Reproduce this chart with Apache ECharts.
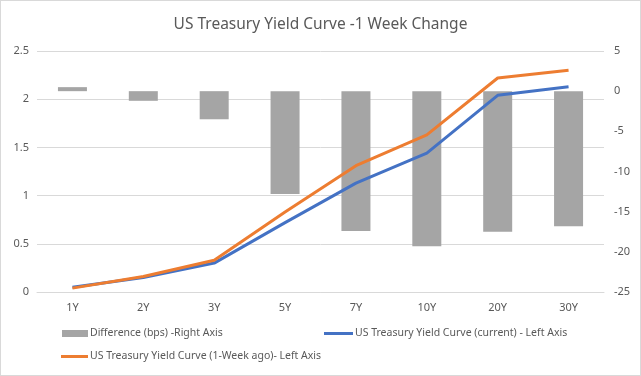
<!DOCTYPE html>
<html>
<head>
<meta charset="utf-8">
<script src="https://cdn.jsdelivr.net/npm/echarts@6/dist/echarts.min.js"></script>
<style>
html,body{margin:0;padding:0;background:#fff;}
#c{width:641px;height:376px;box-sizing:border-box;border:1px solid #d9d9d9;}
</style>
</head>
<body>
<div id="c"></div>
<script>
const categories = ['1Y','2Y','3Y','5Y','7Y','10Y','20Y','30Y'];
const differenceBps = [0.5, -1.2, -3.5, -12.8, -17.4, -19.3, -17.5, -16.8];
const yieldCurrent = [0.05, 0.15, 0.30, 0.72, 1.13, 1.44, 2.04, 2.13];
const yieldWeekAgo = [0.04, 0.16, 0.33, 0.83, 1.31, 1.63, 2.22, 2.30];
const leftTicks = [0, 2.5, 0.5];
const rightTicks = [-25, 5, 5];

const names = ['Difference (bps) -Right Axis','US Treasury Yield Curve (current) - Left Axis','US Treasury Yield Curve (1-Week ago)- Left Axis'];
const font = 'Noto Sans';
const txt = '#595959';
const legText = {color:txt,fontSize:10.5,fontFamily:font,padding:[0,0,0,-3]};

const chart = echarts.init(document.getElementById('c'));
chart.setOption({
  animation:false,
  textStyle:{fontFamily:font},
  title:{text:'US Treasury Yield Curve -1 Week Change',left:'center',top:11,
    textStyle:{fontFamily:font,fontSize:15.5,fontWeight:'normal',color:txt}},
  legend:[
    {left:61,top:327,padding:0,itemWidth:26,itemHeight:7,data:[{name:names[0],icon:'rect'}],textStyle:legText},
    {left:323,top:327,padding:0,itemWidth:29,itemHeight:3,data:[{name:names[1],icon:'rect'}],textStyle:legText},
    {left:60,top:350,padding:0,itemWidth:27,itemHeight:3,data:[{name:names[2],icon:'rect'}],textStyle:legText}
  ],
  grid:{left:36,right:36,top:50,bottom:83},
  xAxis:{type:'category',data:categories,
    axisLine:{lineStyle:{color:'#d9d9d9'}},axisTick:{show:false},
    axisLabel:{color:txt,fontSize:11,margin:10}},
  yAxis:[
    {type:'value',min:leftTicks[0],max:leftTicks[1],interval:leftTicks[2],
     axisLabel:{color:txt,fontSize:11,margin:8},
     splitLine:{lineStyle:{color:'#d9d9d9'}},axisLine:{show:false},axisTick:{show:false}},
    {type:'value',min:rightTicks[0],max:rightTicks[1],interval:rightTicks[2],
     axisLabel:{color:txt,fontSize:11,margin:10},
     splitLine:{show:false},axisLine:{show:false},axisTick:{show:false}}
  ],
  series:[
    {name:names[0],type:'bar',yAxisIndex:1,data:differenceBps,barWidth:29,
     itemStyle:{color:'#a5a5a5'}},
    {name:names[1],type:'line',yAxisIndex:0,data:yieldCurrent,symbol:'none',
     lineStyle:{color:'#4472c4',width:3},itemStyle:{color:'#4472c4'}},
    {name:names[2],type:'line',yAxisIndex:0,data:yieldWeekAgo,symbol:'none',
     lineStyle:{color:'#ed7d31',width:3},itemStyle:{color:'#ed7d31'}}
  ]
});
</script>
</body>
</html>
